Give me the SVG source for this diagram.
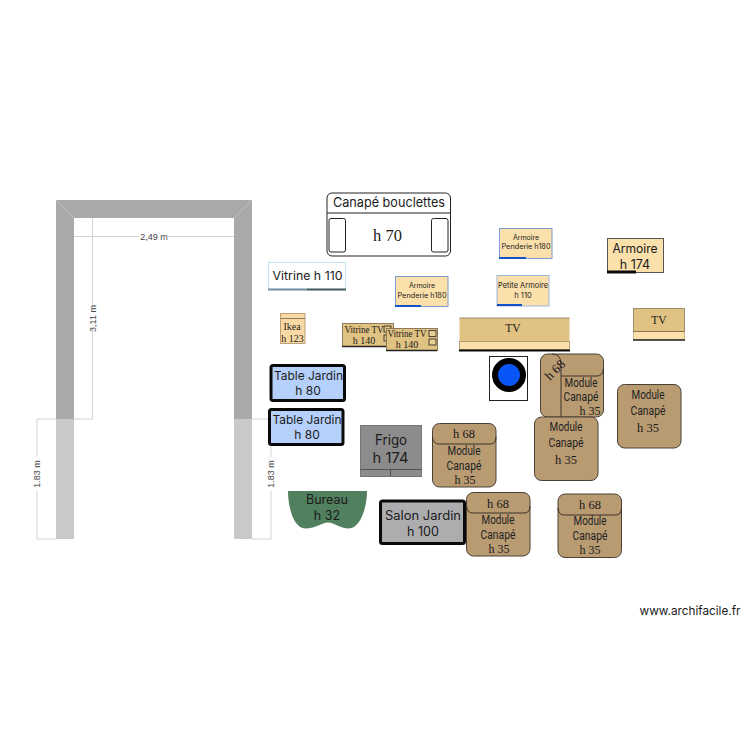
<svg xmlns="http://www.w3.org/2000/svg" width="750" height="750" viewBox="0 0 750 750">
<style>
text{text-anchor:middle;fill:#1a1a1a;font-family:"Inter","Liberation Sans",sans-serif}
text.s{font-family:"Liberation Serif",serif}
text.n{font-family:"Roboto","Liberation Sans",sans-serif;fill:#222;font-size:12px}
text.d{font-family:"Liberation Sans",sans-serif;font-size:9px;fill:#444}
.mod{fill:#b99b72;stroke:#4a4035;stroke-width:1}
.ln{fill:none;stroke:#3c3328;stroke-width:1}
.dim{fill:none;stroke:#d2d2d2;stroke-width:1}
.cr{fill:#fbe0ab}
.tj{fill:#b5d0fb;stroke:#0a0a0a;stroke-width:3}
.vt{fill:#e0c283;stroke:#8c7a58;stroke-width:1}
</style>
<g id="walls">
<path d="M56 200H252V419H234V218H74V419H56Z" fill="#a9a9a9"/>
<rect x="56" y="419" width="18" height="120" fill="#c9c9c9"/>
<rect x="234" y="419" width="18" height="120" fill="#c9c9c9"/>
<path d="M56 200L74 218M252 200L234 218" stroke="#bdbdbd" stroke-width="1"/>
</g>
<g id="connectors">
<path class="dim" d="M74 236.500H139M168 236.500H234M92.500 218V306M92.500 331V419M74 419H92.500M37 419V457M37 491V539M37 419H56M37 539H56M271 419V457M271 491V539M252 419H271M252 539H271"/>
<text class="d" x="154" y="239.500">2,49 m</text>
<text class="d" transform="translate(95.500 318.500) rotate(-90)">3,11 m</text>
<text class="d" transform="translate(40 474) rotate(-90)">1.83 m</text>
<text class="d" transform="translate(274 474) rotate(-90)">1.83 m</text>
</g>
<g id="canape">
<rect x="327" y="193" width="123.500" height="63" rx="5" fill="#fff" stroke="#222"/>
<path d="M327 213H450.500" stroke="#222"/>
<rect x="329" y="218.500" width="16.500" height="33.500" rx="2" fill="#fff" stroke="#222"/>
<rect x="431.500" y="218.500" width="16.500" height="33.500" rx="2" fill="#fff" stroke="#222"/>
<text x="389" y="207" font-size="13" textLength="112" lengthAdjust="spacingAndGlyphs">Canapé bouclettes</text>
<text class="s" x="387.500" y="241" font-size="16.500">h 70</text>
</g>
<g id="vitrine110">
<rect x="268.500" y="262.500" width="77" height="27" fill="#fff" stroke="#bfe6f2"/>
<path d="M268 289.500H307" stroke="#6d8d9d" stroke-width="2"/><path d="M307 289.500H346" stroke="#3f5663" stroke-width="2"/>
<text x="307.500" y="280" font-size="11.500" textLength="70" lengthAdjust="spacingAndGlyphs">Vitrine h 110</text>
</g>
<g id="armoire1">
<rect class="cr" x="395.500" y="276.500" width="52.500" height="30" stroke="#7d9bd0"/>
<path d="M395 306H421" stroke="#1450c8" stroke-width="2"/>
<text x="422" y="288" font-size="7">Armoire</text>
<text x="422" y="298" font-size="7" textLength="49" lengthAdjust="spacingAndGlyphs">Penderie h180</text>
</g>
<g id="armoire2">
<rect class="cr" x="499.500" y="228.500" width="52.500" height="30" stroke="#7d9bd0"/>
<path d="M499 258H526" stroke="#1450c8" stroke-width="2"/>
<text x="526" y="240" font-size="7">Armoire</text>
<text x="526" y="249" font-size="7" textLength="49" lengthAdjust="spacingAndGlyphs">Penderie h180</text>
</g>
<g id="armoire3">
<rect class="cr" x="607.500" y="238.500" width="56" height="34" stroke="#555"/>
<path d="M607 272H636" stroke="#0a0a0a" stroke-width="3"/>
<text x="635" y="253" font-size="12.500" textLength="45" lengthAdjust="spacingAndGlyphs">Armoire</text>
<text x="635" y="269" font-size="12.500">h 174</text>
</g>
<g id="petite">
<rect class="cr" x="497" y="275.500" width="52" height="30.500" stroke="#9db4dc"/>
<path d="M497 305H522" stroke="#1450c8" stroke-width="2"/>
<text x="523" y="288" font-size="7.500" textLength="50" lengthAdjust="spacingAndGlyphs">Petite Armoire</text>
<text x="523" y="298" font-size="7.500">h 110</text>
</g>
<g id="ikea">
<rect x="280.500" y="313.500" width="24.500" height="30" fill="#fbd9a5" stroke="#b9a27a"/>
<path d="M280.500 318.500H305" stroke="#8c7a58"/>
<text class="s" x="292" y="329.500" font-size="10">Ikea</text>
<text class="s" x="292.500" y="341.500" font-size="10">h 123</text>
</g>
<g id="vitrineTV1">
<rect class="vt" x="342.500" y="323.500" width="51" height="23"/>
<path d="M342 346.500H393" stroke="#222" stroke-width="1.500"/>
<rect x="384" y="326" width="7" height="6" fill="#e0c283" stroke="#222" stroke-width=".8"/>
<rect x="384" y="335" width="7" height="6" fill="#e0c283" stroke="#222" stroke-width=".8"/>
<text class="s" x="364" y="332.500" font-size="10" textLength="39" lengthAdjust="spacingAndGlyphs">Vitrine TV</text>
<text class="s" x="364" y="344" font-size="10">h 140</text>
</g>
<g id="vitrineTV2">
<rect class="vt" x="386.500" y="328.500" width="51" height="22"/>
<path d="M386 350.500H437" stroke="#222" stroke-width="1.500"/>
<rect x="429" y="330.500" width="7" height="6" fill="#e8cd95" stroke="#222" stroke-width=".8"/>
<rect x="429" y="339" width="7" height="6" fill="#e8cd95" stroke="#222" stroke-width=".8"/>
<text class="s" x="407" y="336.500" font-size="10" textLength="39" lengthAdjust="spacingAndGlyphs">Vitrine TV</text>
<text class="s" x="407" y="348" font-size="10">h 140</text>
</g>
<g id="tv1">
<rect x="459.500" y="318" width="110" height="32.500" fill="#e0c283"/>
<rect x="459.500" y="341.500" width="110" height="8" fill="#fbe0ab" stroke="#8c7a58" stroke-width=".6"/>
<path d="M459.500 318H569.500" stroke="#9a8a6c"/>
<path d="M459 350.500H570" stroke="#0a0a0a" stroke-width="2"/>
<text class="s" x="513" y="332" font-size="11.500">TV</text>
</g>
<g id="tv2">
<rect x="633.500" y="308.500" width="51" height="31" fill="#e0c283" stroke="#8c7a58" stroke-width=".8"/>
<rect x="633.500" y="331.500" width="51" height="8" fill="#fbe0ab"/>
<path d="M633.500 331.500H684.500" stroke="#5a4a30" stroke-width=".7"/>
<path d="M633 340H685" stroke="#222" stroke-width="1.500"/>
<text class="s" x="659" y="324" font-size="11.500">TV</text>
</g>
<g id="poele">
<rect x="489.500" y="356.500" width="38" height="44" fill="#fff" stroke="#222"/>
<circle cx="509" cy="375" r="14" fill="#0a55f5" stroke="#000" stroke-width="6"/>
</g>
<g id="module1">
<rect class="mod" x="540.500" y="354" width="63" height="63" rx="7"/>
<path class="ln" d="M552 354Q561 354 561 364V417M561 376H597Q603 376 603.500 368"/>
<text class="s" transform="translate(558 373) rotate(-45)" font-size="13">h 68</text>
<text class="n" x="581" y="387" textLength="33" lengthAdjust="spacingAndGlyphs">Module</text>
<text class="n" x="581" y="401" textLength="35" lengthAdjust="spacingAndGlyphs">Canapé</text>
<text class="s" x="590" y="415" font-size="12">h 35</text>
</g>
<g id="module2">
<rect class="mod" x="534.500" y="417" width="63.500" height="63.500" rx="7"/>
<text class="n" x="566" y="431" textLength="33" lengthAdjust="spacingAndGlyphs">Module</text>
<text class="n" x="566" y="447" textLength="35" lengthAdjust="spacingAndGlyphs">Canapé</text>
<text class="s" x="566" y="464" font-size="12.500">h 35</text>
</g>
<g id="module3">
<rect class="mod" x="617.500" y="384.500" width="63.500" height="63.500" rx="7"/>
<text class="n" x="648" y="399" textLength="33" lengthAdjust="spacingAndGlyphs">Module</text>
<text class="n" x="648" y="415" textLength="35" lengthAdjust="spacingAndGlyphs">Canapé</text>
<text class="s" x="648" y="432" font-size="12.500">h 35</text>
</g>
<g id="module4">
<rect class="mod" x="432.500" y="423.500" width="63.500" height="63.500" rx="7"/>
<path class="ln" d="M432.500 437Q433 444 439 444H490Q496 444 496 437"/>
<text class="s" x="464" y="438" font-size="12.500">h 68</text>
<text class="n" x="464" y="455" textLength="33" lengthAdjust="spacingAndGlyphs">Module</text>
<text class="n" x="464" y="470" textLength="35" lengthAdjust="spacingAndGlyphs">Canapé</text>
<text class="s" x="465" y="484" font-size="12">h 35</text>
</g>
<g id="module5">
<rect class="mod" x="466.500" y="492.500" width="63.500" height="63.500" rx="7"/>
<path class="ln" d="M466.500 506Q467 513 473 513H524Q530 513 530 506"/>
<text class="s" x="498" y="508" font-size="12.500">h 68</text>
<text class="n" x="498" y="524" textLength="33" lengthAdjust="spacingAndGlyphs">Module</text>
<text class="n" x="498" y="539" textLength="35" lengthAdjust="spacingAndGlyphs">Canapé</text>
<text class="s" x="499" y="553" font-size="12">h 35</text>
</g>
<g id="module6">
<rect class="mod" x="558" y="494" width="63.500" height="63.500" rx="7"/>
<path class="ln" d="M558 508Q558.500 515 564 515H615.500Q621.500 515 621.500 508"/>
<text class="s" x="590" y="509" font-size="12.500">h 68</text>
<text class="n" x="590" y="525" textLength="33" lengthAdjust="spacingAndGlyphs">Module</text>
<text class="n" x="590" y="540" textLength="35" lengthAdjust="spacingAndGlyphs">Canapé</text>
<text class="s" x="590" y="554" font-size="12">h 35</text>
</g>
<g id="table1">
<rect class="tj" x="271" y="365.500" width="73.500" height="35" rx="2"/>
<text x="308.500" y="380" font-size="12" textLength="69" lengthAdjust="spacingAndGlyphs">Table Jardin</text>
<text x="308" y="395" font-size="12">h 80</text>
</g>
<g id="table2">
<rect class="tj" x="269.500" y="409.500" width="73.500" height="35" rx="2"/>
<text x="307" y="424" font-size="12" textLength="69" lengthAdjust="spacingAndGlyphs">Table Jardin</text>
<text x="307" y="439" font-size="12">h 80</text>
</g>
<g id="frigo">
<rect x="360.500" y="425.500" width="61" height="51" fill="#8c8c8c" stroke="#777"/>
<path d="M360.500 469.500H421.500M390.500 469.500V476.500" stroke="#444" stroke-width=".8"/>
<text x="391" y="445" font-size="14" textLength="32" lengthAdjust="spacingAndGlyphs">Frigo</text>
<text x="390.500" y="463" font-size="14" textLength="36" lengthAdjust="spacingAndGlyphs">h 174</text>
</g>
<g id="bureau">
<path d="M288 491H367C367 510 359 528.500 349 528.500C339 528.500 335 522.500 328 522.500C321 522.500 317 528.500 305 528.500C295 528.500 288 510 288 491Z" fill="#51805f"/>
<text x="327" y="504" font-size="12.500" textLength="42" lengthAdjust="spacingAndGlyphs">Bureau</text>
<text x="327" y="520" font-size="12.500">h 32</text>
</g>
<g id="salon">
<rect x="380.500" y="501" width="84" height="42.500" rx="2" fill="#adadb0" stroke="#0a0a0a" stroke-width="3"/>
<text x="423" y="520" font-size="12.500" textLength="76" lengthAdjust="spacingAndGlyphs">Salon Jardin</text>
<text x="423" y="536" font-size="12.500">h 100</text>
</g>
<text id="watermark" x="690" y="615" font-family="Liberation Sans,sans-serif" font-size="12" textLength="101" lengthAdjust="spacingAndGlyphs">www.archifacile.fr</text>
</svg>
